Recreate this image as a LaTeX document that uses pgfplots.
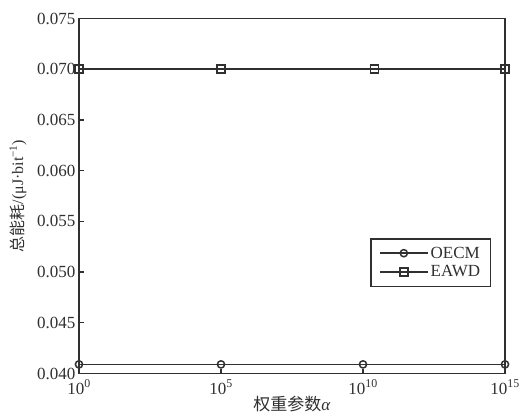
\documentclass[border=0pt]{standalone}
\usepackage{fontspec}
\setmainfont{Liberation Serif}
\newfontfamily\cjk{Noto Sans CJK SC}
\usepackage{pgfplots}
\pgfplotsset{compat=1.18}
\definecolor{ink}{HTML}{303030}
\pgfplotsset{mylegimg/.style={legend image code/.code={\draw[mark repeat=2, mark phase=2, #1] plot coordinates {(0pt,0pt) (24pt,0pt) (48pt,0pt)};}}}
\begin{document}
\begin{tikzpicture}[x=1pt,y=1pt]
\path[use as bounding box] (-79,-41.5) rectangle (450,373.5);
\begin{axis}[at={(0,0)}, anchor=south west, scale only axis,
  width=426pt, height=355pt,
  xmode=log, xmin=1, xmax=1e15, ymin=0.040, ymax=0.075,
  xtick={1,1e5,1e10,1e15},
  xticklabels={10\textsuperscript{0},10\textsuperscript{5},10\textsuperscript{10},10\textsuperscript{15}},
  xminorticks=false,
  scaled y ticks=false,
  ytick={0.040,0.045,0.050,0.055,0.060,0.065,0.070,0.075},
  yticklabel style={/pgf/number format/fixed, /pgf/number format/fixed zerofill, /pgf/number format/precision=3},
  xticklabel style={yshift=-3pt},
  /pgf/number format/assume math mode=true,
  tick align=inside, tick pos=left, major tick length=5pt,
  axis line style={ink, line width=1.6pt},
  every tick/.style={ink, line width=1.4pt},
  tick label style={font=\fontsize{17}{19}\selectfont, text=ink},
  label style={font=\fontsize{17}{19}\selectfont, text=ink},
  xlabel={{\cjk 权重参数}\textit{α}},
  xlabel style={at={(axis description cs:0.5,0)}, anchor=center, yshift=-30.5pt},
  ylabel={{\cjk 总能耗}/(μJ·bit\textsuperscript{−1})},
  ylabel style={at={(axis description cs:-0.143,0.5)}, anchor=center, font=\fontsize{16}{18}\selectfont},
  legend style={at={(0.967,0.2437)}, anchor=south east, draw=ink, line width=1.4pt,
    font=\fontsize{17}{19}\selectfont, text=ink, inner xsep=8pt, inner ysep=6pt,
    row sep=2pt},
  legend cell align=left,
  mylegimg,
]
\addplot[ink, line width=1.6pt, mark=o, mark size=3.6pt, mark options={solid, line width=1.5pt}]
  coordinates {(1,0.0409) (1e5,0.0409) (1e10,0.0409) (1e15,0.0409)};
\addlegendentry{OECM}
\addplot[ink, line width=1.6pt, mark=square, mark size=4pt, mark options={solid, line width=1.5pt}]
  coordinates {(1,0.0700) (1e5,0.0700) (2.5e10,0.0700) (1e15,0.0700)};
\addlegendentry{EAWD}
\end{axis}
\end{tikzpicture}
\end{document}
